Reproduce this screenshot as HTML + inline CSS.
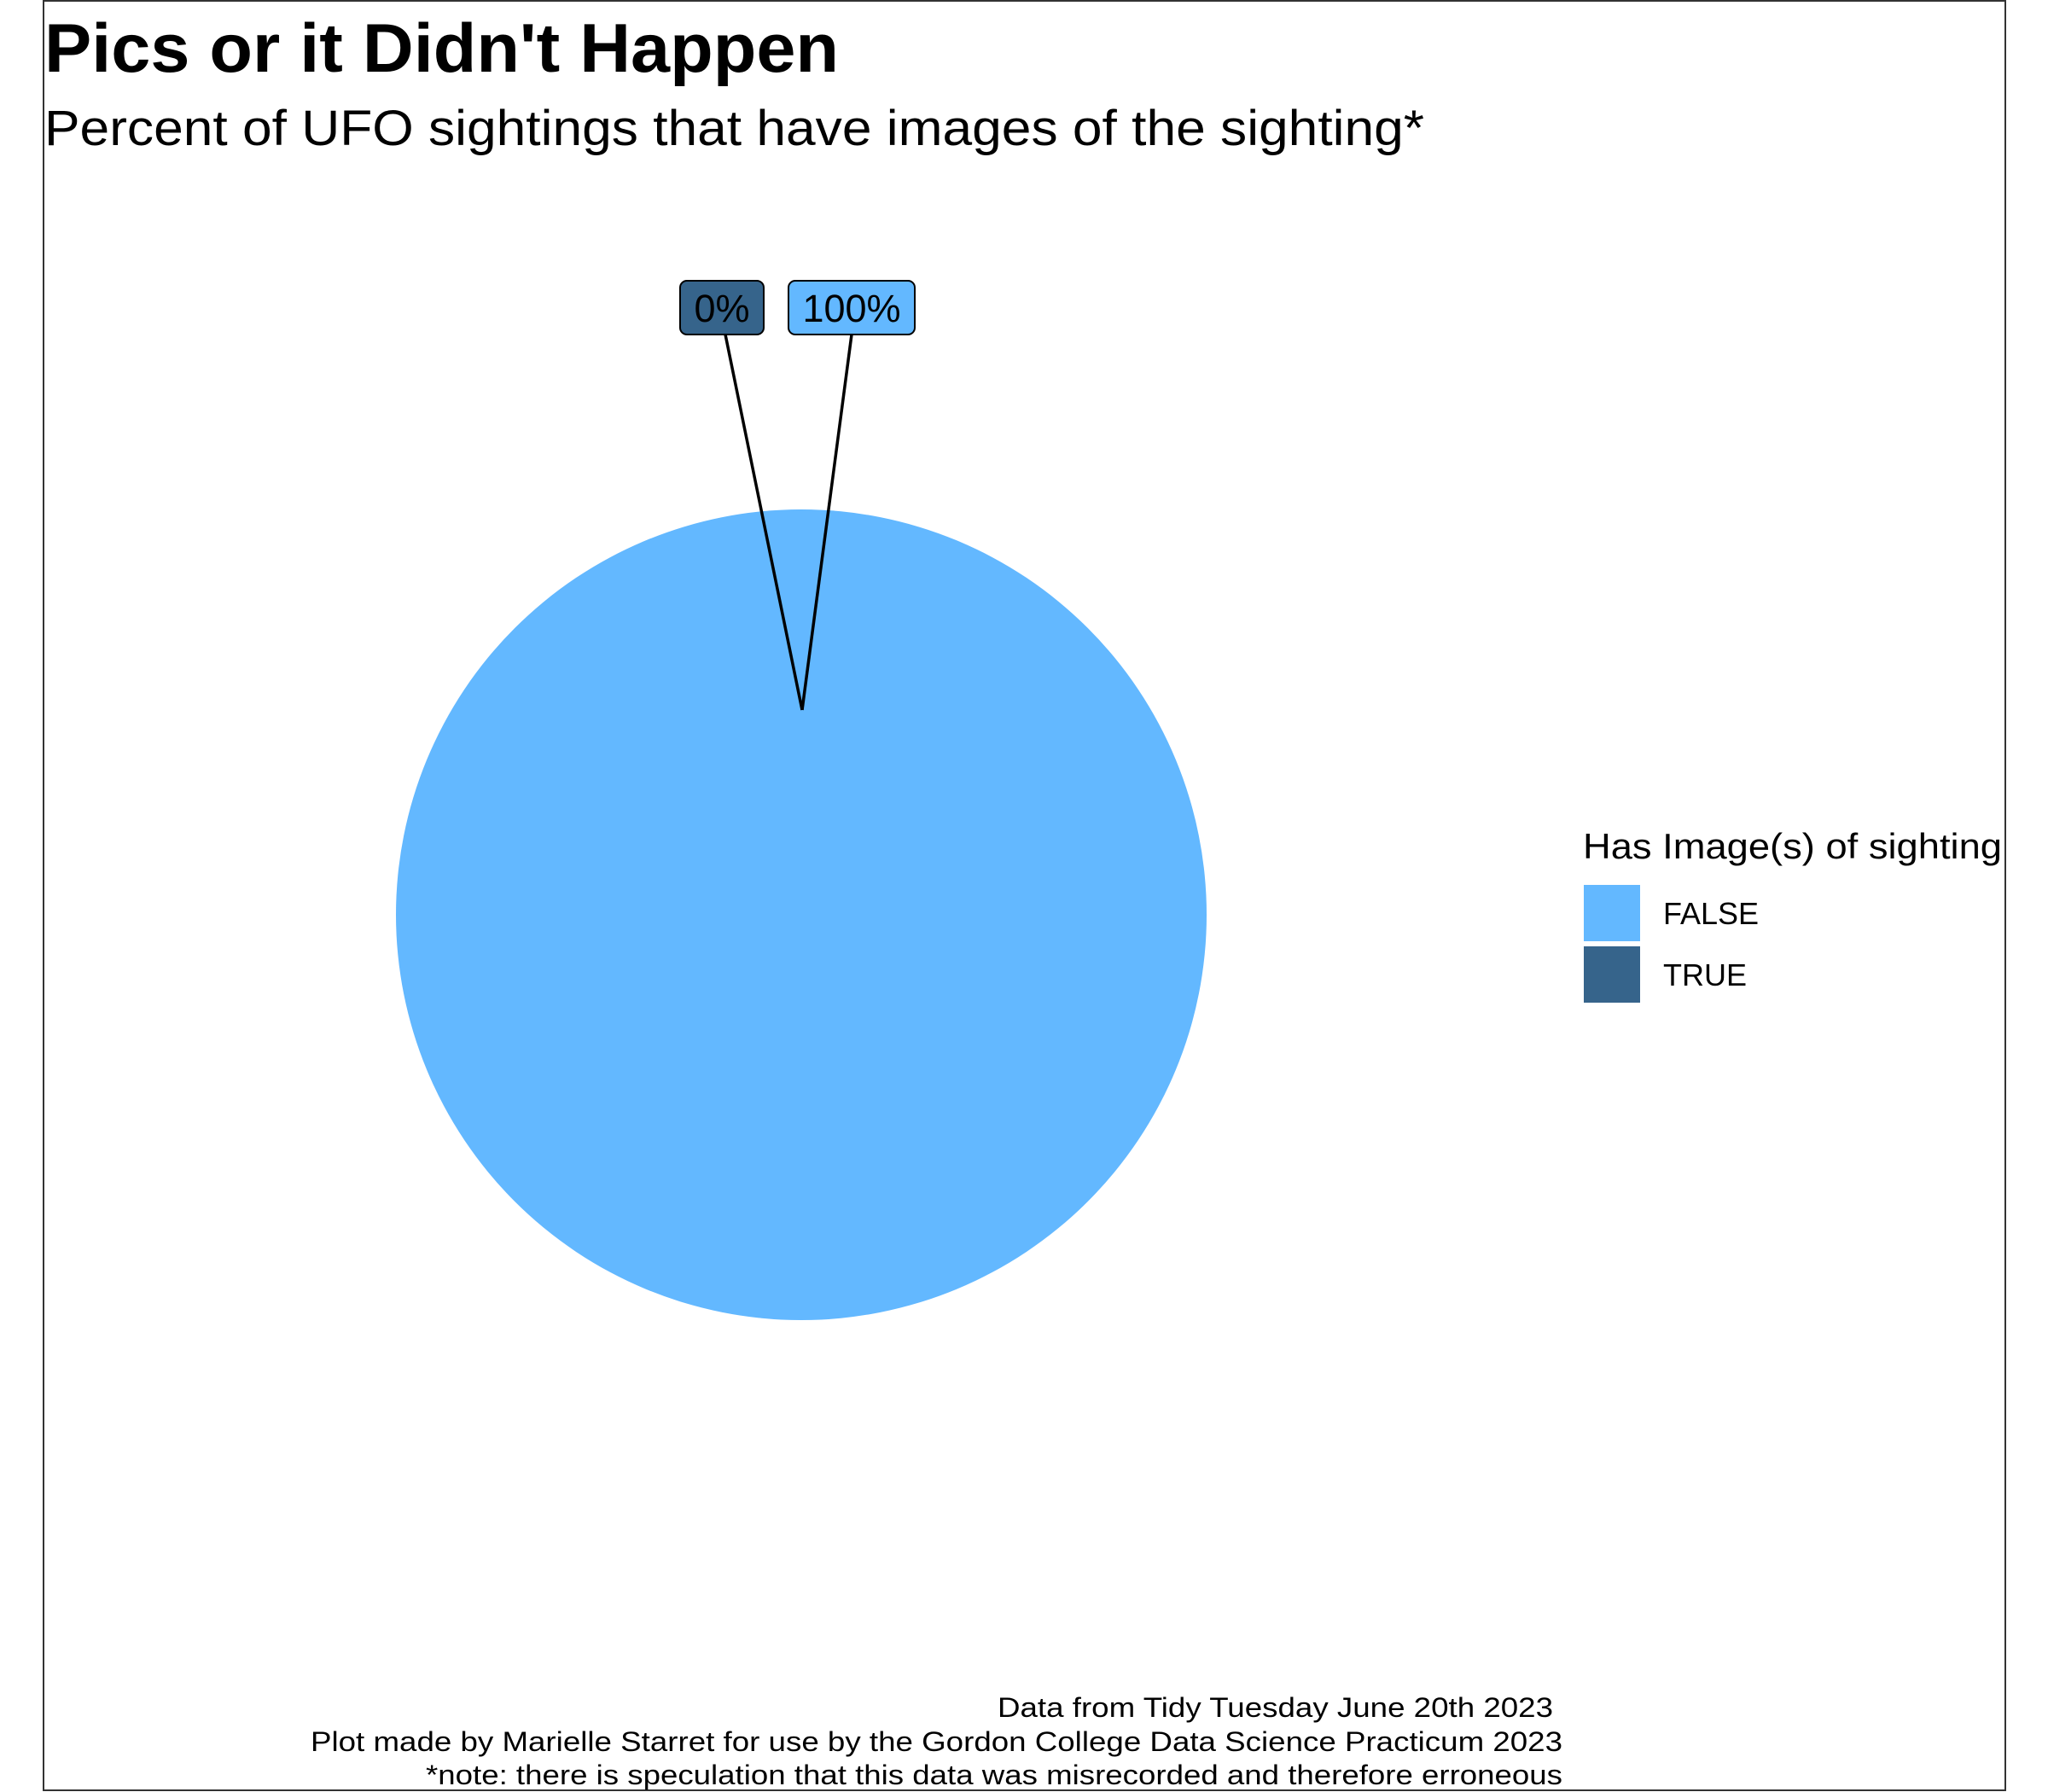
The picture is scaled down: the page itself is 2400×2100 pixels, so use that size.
<!DOCTYPE html>
<html><head><meta charset="utf-8"><style>
html,body{margin:0;padding:0;background:#fff;}
svg{display:block;font-family:"Liberation Sans",Arial,sans-serif;}
</style></head><body>
<svg id="chart" width="2400" height="2100" viewBox="0 0 2400 2100">
<rect x="51" y="1" width="2299" height="2097" fill="#fff" stroke="#333" stroke-width="2"/>
<text x="52" y="84" font-size="81" font-weight="bold" textLength="931" lengthAdjust="spacingAndGlyphs">Pics or it Didn't Happen</text>
<text x="52" y="170" font-size="58" textLength="1617" lengthAdjust="spacingAndGlyphs">Percent of UFO sightings that have images of the sighting*</text>
<g id="pie"></g>
<g id="labels"></g>
<g>
<text x="1855" y="1006" font-size="42" textLength="491" lengthAdjust="spacingAndGlyphs">Has Image(s) of sighting</text>
<g id="legend-items"></g>
</g>
<g font-size="32" text-anchor="end">
<text x="1820" y="2012" textLength="651" lengthAdjust="spacingAndGlyphs">Data from Tidy Tuesday June 20th 2023</text>
<text x="1831" y="2052" textLength="1467" lengthAdjust="spacingAndGlyphs">Plot made by Marielle Starret for use by the Gordon College Data Science Practicum 2023</text>
<text x="1831" y="2091" textLength="1332" lengthAdjust="spacingAndGlyphs">*note: there is speculation that this data was misrecorded and therefore erroneous</text>
</g>
</svg>
<script>
const categories = ["FALSE", "TRUE"];
const values = [100, 0];
const valueLabels = ["100%", "0%"];
const colors = ["#63B8FF", "#36648B"];

const NS = "http://www.w3.org/2000/svg";
const cx = 939, cy = 1072, r = 475;
const total = values.reduce((a, b) => a + b, 0);
function angle(v) { return v / total * 2 * Math.PI; }
function pt(a, rad) { return [cx + rad * Math.sin(a), cy - rad * Math.cos(a)]; }

const pie = document.getElementById("pie");
let start = 0;
values.forEach((v, i) => {
  const a = angle(v);
  let el;
  if (v >= total) {
    el = document.createElementNS(NS, "circle");
    el.setAttribute("cx", cx); el.setAttribute("cy", cy); el.setAttribute("r", r);
  } else {
    el = document.createElementNS(NS, "path");
    const p0 = pt(start, r), p1 = pt(start + a, r);
    el.setAttribute("d", `M${cx},${cy} L${p0[0]},${p0[1]} A${r},${r} 0 ${a > Math.PI ? 1 : 0} 1 ${p1[0]},${p1[1]} Z`);
  }
  el.setAttribute("fill", colors[i]);
  
  
  pie.appendChild(el);
  start += a;
});

const anchor = [940, 832];
const labelBoxes = [
  { x: 924, w: 148 },
  { x: 797, w: 98 }
];
const lab = document.getElementById("labels");
values.forEach((v, i) => {
  const b = labelBoxes[i];
  const line = document.createElementNS(NS, "line");
  const lx = i === 0 ? 998 : 850;
  line.setAttribute("x1", lx); line.setAttribute("y1", 392);
  line.setAttribute("x2", anchor[0]); line.setAttribute("y2", anchor[1]);
  line.setAttribute("stroke", "#000"); line.setAttribute("stroke-width", "3.5");
  
  
  lab.appendChild(line);
  const rect = document.createElementNS(NS, "rect");
  rect.setAttribute("x", b.x); rect.setAttribute("y", 329);
  rect.setAttribute("width", b.w); rect.setAttribute("height", 63);
  rect.setAttribute("rx", 8);
  rect.setAttribute("fill", colors[i]); rect.setAttribute("stroke", "#000"); rect.setAttribute("stroke-width", "2");
  
  
  lab.appendChild(rect);
  const t = document.createElementNS(NS, "text");
  t.setAttribute("x", b.x + b.w / 2); t.setAttribute("y", 377);
  t.setAttribute("font-size", "45"); t.setAttribute("text-anchor", "middle");
  t.textContent = valueLabels[i];
  
  
  lab.appendChild(t);
});

const leg = document.getElementById("legend-items");
categories.forEach((c, i) => {
  const y = 1037 + i * 72;
  const k = document.createElementNS(NS, "rect");
  k.setAttribute("x", 1856); k.setAttribute("y", y);
  k.setAttribute("width", 66); k.setAttribute("height", 66);
  k.setAttribute("fill", colors[i]);
  
  
  leg.appendChild(k);
  const t = document.createElementNS(NS, "text");
  t.setAttribute("x", 1949); t.setAttribute("y", y + 46);
  t.setAttribute("font-size", "36");
  t.textContent = c;
  
  
  leg.appendChild(t);
});
</script>
</body></html>
